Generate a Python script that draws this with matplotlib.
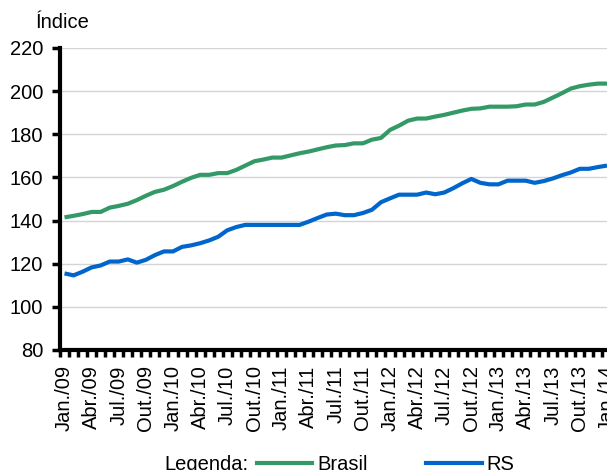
import matplotlib
matplotlib.use("Agg")
import matplotlib.pyplot as plt
from matplotlib.lines import Line2D
import numpy as np

plt.rcParams['font.family'] = ['Liberation Sans', 'DejaVu Sans']

months = ["Jan.", "Fev.", "Mar.", "Abr.", "Mai.", "Jun.", "Jul.", "Ago.", "Set.", "Out.", "Nov.", "Dez."]
categories = [f"{m}/{y:02d}" for y in range(9, 14) for m in months] + ["Jan./14"]

brasil = [141.5, 142.2, 143.0, 144.0, 144.0, 146.0, 146.8, 147.8, 149.5, 151.5, 153.3, 154.3,
          156.0, 158.0, 159.8, 161.2, 161.2, 162.0, 162.0, 163.5, 165.5, 167.5, 168.3, 169.2,
          169.2, 170.2, 171.2, 172.0, 173.0, 174.0, 174.8, 175.0, 175.8, 175.8, 177.5, 178.3,
          182.0, 184.0, 186.3, 187.3, 187.3, 188.2, 189.0, 190.0, 191.0, 191.8, 192.0, 192.8,
          192.8, 192.8, 193.0, 193.8, 193.8, 195.0, 197.0, 199.0, 201.2, 202.3, 203.0, 203.5,
          203.5]
rs = [115.5, 114.6, 116.3, 118.3, 119.2, 121.0, 121.0, 122.0, 120.5, 121.8, 124.0, 125.7,
      125.7, 127.8, 128.5, 129.5, 130.8, 132.5, 135.5, 137.0, 138.0, 138.0, 138.0, 138.0,
      138.0, 138.0, 138.0, 139.5, 141.2, 142.8, 143.2, 142.5, 142.5, 143.5, 145.0, 148.5,
      150.3, 152.0, 152.0, 152.0, 153.0, 152.2, 153.0, 155.0, 157.3, 159.3, 157.5, 156.8,
      156.8, 158.5, 158.5, 158.5, 157.5, 158.3, 159.5, 161.0, 162.3, 164.0, 164.0, 164.8,
      165.5]
yticks = [80, 100, 120, 140, 160, 180, 200, 220]

green = "#339966"
blue = "#0066cc"
FS = 14.5

W, H = 607, 470
fig = plt.figure(figsize=(W / 100, H / 100), dpi=100)
left_px, right_px, top_px, bot_px = 60, 611.5, 48, 350
ax = fig.add_axes([left_px / W, 1 - bot_px / H, (right_px - left_px) / W, (bot_px - top_px) / H])

x = np.arange(len(categories))
ax.plot(x, brasil, color=green, lw=3.0, solid_capstyle='butt', zorder=3)
ax.plot(x, rs, color=blue, lw=3.0, solid_capstyle='butt', zorder=3)

ax.set_xlim(-0.5, len(categories) - 0.5)
ax.set_ylim(80, 220)
ax.set_yticks(yticks)
ax.set_yticklabels([str(v) for v in yticks], fontsize=FS)
ax.yaxis.grid(True, color="#d4d4d4", lw=1.0)
ax.set_axisbelow(True)

lab_idx = list(range(0, len(categories), 3))
ax.set_xticks(lab_idx)
ax.set_xticklabels([categories[i] for i in lab_idx], rotation=90, fontsize=FS, va='top', ha='center')
ax.set_xticks(np.arange(-0.5, len(categories), 1.0), minor=True)
ax.tick_params(axis='x', which='major', length=0, pad=11)
ax.tick_params(axis='x', which='minor', length=5, width=2.5, color='black', direction='out')
ax.tick_params(axis='y', which='major', length=6, width=2.5, color='black', pad=6)

for s in ['top', 'right']:
    ax.spines[s].set_visible(False)
for s in ['left', 'bottom']:
    ax.spines[s].set_linewidth(3)
    ax.spines[s].set_color('black')

fig.text(36 / W, 1 - 22 / H, "Índice", fontsize=FS, ha='left', va='center')

ly = 1 - 465 / H
fig.text(248 / W, ly, "Legenda:", fontsize=FS, ha='right', va='center')
handles = [Line2D([0], [0], color=green, lw=3), Line2D([0], [0], color=blue, lw=3)]
fig.legend(handles, ["Brasil", "RS"], loc='center left', bbox_to_anchor=(257 / W, ly),
           ncol=2, frameon=False, fontsize=FS, handlelength=2.75, handletextpad=0.25,
           columnspacing=2.9, borderpad=0, borderaxespad=0)

fig.savefig("out.png", dpi=100)
